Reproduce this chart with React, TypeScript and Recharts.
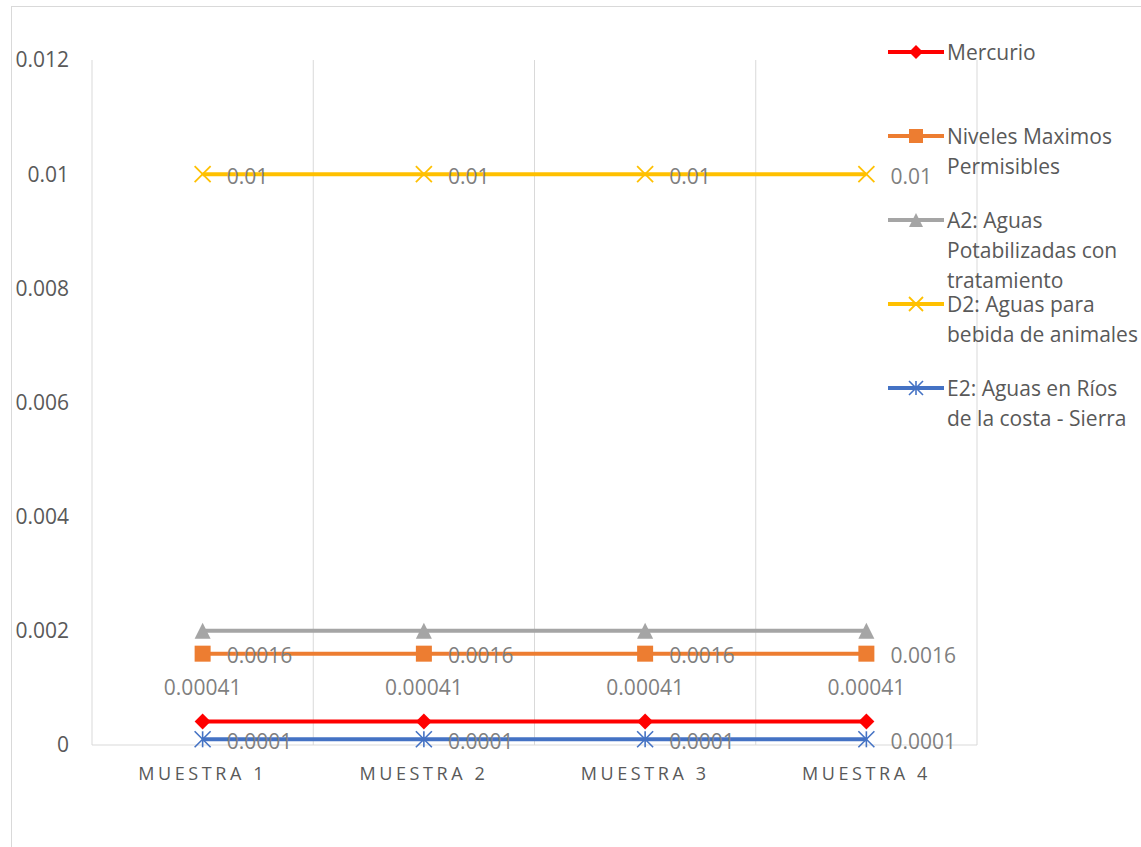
import React from 'react';
import { LineChart, Line, XAxis, YAxis, CartesianGrid, Legend, LabelList } from 'recharts';

// categories and series values
const CATEGORIES = ['MUESTRA 1', 'MUESTRA 2', 'MUESTRA 3', 'MUESTRA 4'];
const MERCURIO = [0.00041, 0.00041, 0.00041, 0.00041];
const NIVELES = [0.0016, 0.0016, 0.0016, 0.0016];
const A2 = [0.002, 0.002, 0.002, 0.002];
const D2 = [0.01, 0.01, 0.01, 0.01];
const E2 = [0.0001, 0.0001, 0.0001, 0.0001];
const Y_TICKS = [0, 0.002, 0.004, 0.006, 0.008, 0.01, 0.012];

type Shape = 'diamond' | 'square' | 'triangle' | 'x' | 'star';
type LabelPos = 'top' | 'right' | 'none';

const SERIES: { key: string; name: string; legend: string[]; color: string; shape: Shape; label: LabelPos }[] = [
  { key: 'mercurio', name: 'Mercurio', legend: ['Mercurio'], color: '#ff0000', shape: 'diamond', label: 'top' },
  { key: 'niveles', name: 'Niveles Maximos Permisibles', legend: ['Niveles Maximos', 'Permisibles'], color: '#ed7d31', shape: 'square', label: 'right' },
  { key: 'a2', name: 'A2: Aguas Potabilizadas con tratamiento', legend: ['A2: Aguas', 'Potabilizadas con', 'tratamiento'], color: '#a5a5a5', shape: 'triangle', label: 'none' },
  { key: 'd2', name: 'D2: Aguas para bebida de animales', legend: ['D2: Aguas para', 'bebida de animales'], color: '#ffc000', shape: 'x', label: 'right' },
  { key: 'e2', name: 'E2: Aguas en Ríos de la costa - Sierra', legend: ['E2: Aguas en Ríos', 'de la costa - Sierra'], color: '#4472c4', shape: 'star', label: 'right' },
];

const data = CATEGORIES.map((name, i) => ({
  name,
  mercurio: MERCURIO[i],
  niveles: NIVELES[i],
  a2: A2[i],
  d2: D2[i],
  e2: E2[i],
}));

const TEXT = '#595959';
const LABEL = '#7f7f7f';
const GRID = '#d9d9d9';
const FONT = 21;

const Marker = ({ shape, cx, cy, color, size = 16 }: { shape: Shape; cx: number; cy: number; color: string; size?: number }) => {
  const h = size / 2;
  switch (shape) {
    case 'diamond':
      return <path d={`M${cx},${cy - h}L${cx + h},${cy}L${cx},${cy + h}L${cx - h},${cy}Z`} fill={color} />;
    case 'square':
      return <rect x={cx - h} y={cy - h} width={size} height={size} fill={color} />;
    case 'triangle':
      return <path d={`M${cx},${cy - h}L${cx + h},${cy + h}L${cx - h},${cy + h}Z`} fill={color} />;
    case 'x':
      return (
        <g stroke={color} strokeWidth={1.8}>
          <line x1={cx - h} y1={cy - h} x2={cx + h} y2={cy + h} />
          <line x1={cx - h} y1={cy + h} x2={cx + h} y2={cy - h} />
        </g>
      );
    default:
      return (
        <g stroke={color} strokeWidth={1.6}>
          <line x1={cx - h} y1={cy - h} x2={cx + h} y2={cy + h} />
          <line x1={cx - h} y1={cy + h} x2={cx + h} y2={cy - h} />
          <line x1={cx} y1={cy - h} x2={cx} y2={cy + h} />
        </g>
      );
  }
};

const renderDot = (shape: Shape, color: string) => (p: any) => (
  <g key={`dot-${p.index}`}>
    <Marker shape={shape} cx={p.cx} cy={p.cy} color={color} />
  </g>
);

const renderLabel = (pos: LabelPos) => (p: any) => {
  const { x, y, value, index } = p;
  if (pos === 'top') {
    return (
      <text key={`lbl-${index}`} x={x} y={y - 34} dy="0.35em" textAnchor="middle" fontSize={FONT} fill={LABEL}>
        {value}
      </text>
    );
  }
  return (
    <text key={`lbl-${index}`} x={x + 24} y={y + 2} dy="0.35em" textAnchor="start" fontSize={FONT} fill={LABEL}>
      {value}
    </text>
  );
};

// category boundaries, taken from the range of the x axis band scale
const categoryBounds = ({ xAxis, offset }: any) => {
  const sc = xAxis && xAxis.scale;
  let r0: number;
  let r1: number;
  if (sc && typeof sc.range === 'function') {
    const r = sc.range();
    r0 = Math.min(r[0], r[1]);
    r1 = Math.max(r[0], r[1]);
  } else {
    r0 = offset.left;
    r1 = offset.left + offset.width;
  }
  const step = (r1 - r0) / CATEGORIES.length;
  return [...CATEGORIES.map((_, i) => r0 + i * step), r1];
};

const LegendContent = (props: any) => {
  const payload: any[] = props.payload || [];
  const items = SERIES.filter((s) => payload.some((p) => p.dataKey === s.key));
  return (
    <div style={{ position: 'relative', width: 256 }}>
      {items.map((s) => (
        <div key={s.key} style={{ position: 'relative', height: 84 }}>
          <svg width={58} height={20} style={{ position: 'absolute', left: 2, top: 5 }}>
            <line x1={1} y1={10} x2={57} y2={10} stroke={s.color} strokeWidth={4} />
            <Marker shape={s.shape} cx={29} cy={10} color={s.color} size={14} />
          </svg>
          <div style={{ position: 'absolute', left: 62, top: 0, fontSize: FONT, lineHeight: '30px', color: TEXT, whiteSpace: 'nowrap' }}>
            {s.legend.map((l) => (
              <div key={l}>{l}</div>
            ))}
          </div>
        </div>
      ))}
    </div>
  );
};

export default function App() {
  return (
    <div
      style={{
        position: 'absolute',
        left: 0,
        top: 0,
        width: 1141,
        height: 847,
        overflow: 'hidden',
        background: '#ffffff',
        fontFamily: '"Open Sans", sans-serif',
      }}
    >
      <div style={{ position: 'absolute', left: 11, top: 6, width: 1200, height: 900, border: `1px solid ${GRID}` }} />
      <LineChart width={1141} height={847} data={data} margin={{ top: 60, right: 164, bottom: 62, left: 0 }}>
        <CartesianGrid horizontal={false} stroke={GRID} strokeWidth={1} verticalCoordinatesGenerator={categoryBounds} />
        <XAxis
          dataKey="name"
          scale="band"
          height={40}
          axisLine={{ stroke: GRID, strokeWidth: 1 }}
          tickLine={false}
          tickSize={0}
          tickMargin={22}
          interval={0}
          tick={{ fontSize: 18, fill: TEXT, letterSpacing: 3.6 } as any}
        />
        <YAxis
          width={92}
          domain={[0, 0.012]}
          ticks={Y_TICKS}
          axisLine={false}
          tickLine={false}
          tickSize={0}
          tickMargin={23}
          tick={{ fontSize: FONT, fill: TEXT }}
        />
        <Legend
          layout="vertical"
          align="center"
          verticalAlign="middle"
          content={LegendContent}
          wrapperStyle={{ left: 885, top: 37, width: 256 }}
        />
        {SERIES.map((s) => (
          <Line
            key={s.key}
            dataKey={s.key}
            name={s.name}
            stroke={s.color}
            strokeWidth={4}
            type="linear"
            dot={renderDot(s.shape, s.color)}
            activeDot={false}
            isAnimationActive={false}
          >
            {s.label !== 'none' && <LabelList dataKey={s.key} content={renderLabel(s.label)} />}
          </Line>
        ))}
      </LineChart>
    </div>
  );
}
